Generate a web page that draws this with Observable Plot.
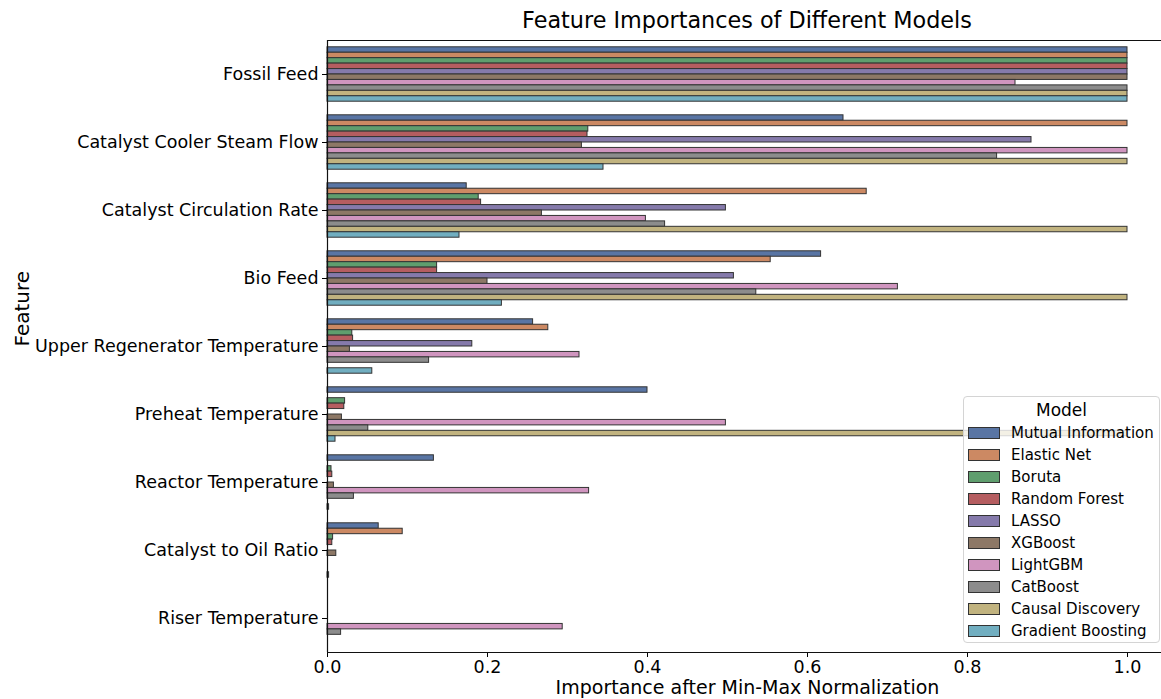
<!DOCTYPE html>
<html><head><meta charset="utf-8">
<script src="https://cdn.jsdelivr.net/npm/d3@7"></script>
<script src="https://cdn.jsdelivr.net/npm/@observablehq/plot@0.6"></script>
<style>
html,body{margin:0;padding:0;background:#fff;overflow:hidden;width:1161px;height:699px}
#wrap{position:relative;width:1161px;height:699px;overflow:hidden;font-family:"DejaVu Sans",sans-serif;color:#000}
#chart{position:absolute;left:0;top:0}
#chart svg{max-width:none !important}
#title{position:absolute;left:327px;width:840px;top:0;height:40px;text-align:center;font-size:22.3px;line-height:40px}
#legend{position:absolute;left:963px;top:396px;width:197px;height:247px;box-sizing:border-box;border:1px solid #d4d4d4;border-radius:4px;background:rgba(255,255,255,0.8)}
#legend .lt{position:absolute;left:0;right:0;top:2px;text-align:center;font-size:17px;line-height:22px}
#legend .row{position:absolute;left:4px;height:22px;font-size:15px;line-height:22px;white-space:nowrap}
#legend .sw{position:absolute;left:0;top:5px;width:30px;height:10px;border:1px solid #333}
#legend .lab{position:absolute;left:43px;top:0}
</style>
</head><body>
<div id="wrap">
  <div id="chart"></div>
  <div id="title"></div>
  <div id="legend"></div>
</div>
<script>
const titleText = "Feature Importances of Different Models";
const xLabel = "Importance after Min-Max Normalization";
const yLabel = "Feature";
const legendTitle = "Model";

const features = ["Fossil Feed", "Catalyst Cooler Steam Flow", "Catalyst Circulation Rate", "Bio Feed",
  "Upper Regenerator Temperature", "Preheat Temperature", "Reactor Temperature", "Catalyst to Oil Ratio", "Riser Temperature"];
const models = ["Mutual Information", "Elastic Net", "Boruta", "Random Forest", "LASSO", "XGBoost",
  "LightGBM", "CatBoost", "Causal Discovery", "Gradient Boosting"];
const colors = ["#5975a4", "#cc8963", "#5f9e6e", "#b55d60", "#857aab", "#8d7866", "#d095bf", "#8c8c8c", "#c1b37f", "#71aec0"];

const mutualInformation = [1.0, 0.645, 0.174, 0.617, 0.257, 0.400, 0.133, 0.064, 0];
const elasticNet        = [1.0, 1.0, 0.674, 0.554, 0.276, 0, 0, 0.094, 0];
const boruta            = [1.0, 0.326, 0.189, 0.137, 0.031, 0.022, 0.005, 0.007, 0];
const randomForest      = [1.0, 0.325, 0.192, 0.137, 0.032, 0.021, 0.006, 0.006, 0];
const lasso             = [1.0, 0.880, 0.498, 0.508, 0.181, 0, 0, 0, 0];
const xgboost           = [1.0, 0.318, 0.268, 0.200, 0.028, 0.018, 0.008, 0.011, 0];
const lightgbm          = [0.860, 1.0, 0.398, 0.713, 0.315, 0.498, 0.327, 0, 0.294];
const catboost          = [1.0, 0.837, 0.422, 0.536, 0.127, 0.051, 0.033, 0, 0.017];
const causalDiscovery   = [1.0, 1.0, 1.0, 1.0, 0, 1.0, 0, 0, 0];
const gradientBoosting  = [1.0, 0.345, 0.165, 0.218, 0.056, 0.010, 0.002, 0.002, 0];

const xTicks = [0, 0.2, 0.4, 0.6, 0.8, 1.0];

const series = [mutualInformation, elasticNet, boruta, randomForest, lasso, xgboost,
  lightgbm, catboost, causalDiscovery, gradientBoosting];

// seaborn-style dodge: each category occupies 0.8 of a unit, split among the hues
const groupWidth = 0.8;
const barW = groupWidth / models.length;
const rows = [];
models.forEach((m, mi) => {
  features.forEach((f, fi) => {
    const y1 = fi - groupWidth / 2 + mi * barW;
    rows.push({model: m, feature: f, value: series[mi][fi], y1, y2: y1 + barW});
  });
});

const chart = Plot.plot({
  width: 1167,
  height: 699,
  marginLeft: 327,
  marginRight: 0,
  marginTop: 40,
  marginBottom: 47,
  style: {fontFamily: "DejaVu Sans, sans-serif", color: "#000", background: "transparent", overflow: "visible", maxWidth: "none"},
  x: {domain: [0, 1.05], axis: null},
  y: {domain: [-0.5, features.length - 0.5], reverse: true, axis: null},
  color: {domain: models, range: colors},
  marks: [
    Plot.rect(rows, {x1: 0, x2: "value", y1: "y1", y2: "y2", fill: "model", stroke: "#333", strokeWidth: 1}),
    Plot.axisX({ticks: xTicks, tickFormat: d3.format(".1f"), tickSize: 5, tickPadding: 3, fontSize: 17.5, label: null, stroke: "#000"}),
    Plot.axisY({ticks: d3.range(features.length), tickFormat: i => features[i], tickSize: 5, tickPadding: 4, fontSize: 17.5, label: null, stroke: "#000"}),
    Plot.ruleX([0], {stroke: "#111", strokeWidth: 1.2}),
    Plot.ruleY([-0.5, features.length - 0.5], {stroke: "#111", strokeWidth: 1.2}),
    Plot.text([xLabel], {text: d => d, frameAnchor: "bottom", dy: 35, fontSize: 19, lineAnchor: "middle", fill: "#000"}),
    Plot.text([yLabel], {text: d => d, frameAnchor: "left", dx: -305, rotate: -90, fontSize: 20, lineAnchor: "middle", fill: "#000"})
  ]
});
document.getElementById("chart").appendChild(chart);
document.getElementById("title").textContent = titleText;

const legend = document.getElementById("legend");
const lt = document.createElement("div");
lt.className = "lt";
lt.textContent = legendTitle;
legend.appendChild(lt);
models.forEach((m, i) => {
  const row = document.createElement("div");
  row.className = "row";
  row.style.top = (25 + i * 21.95) + "px";
  const sw = document.createElement("div");
  sw.className = "sw";
  sw.style.background = colors[i];
  const lab = document.createElement("span");
  lab.className = "lab";
  lab.textContent = m;
  row.appendChild(sw);
  row.appendChild(lab);
  legend.appendChild(row);
});
</script>
</body></html>
